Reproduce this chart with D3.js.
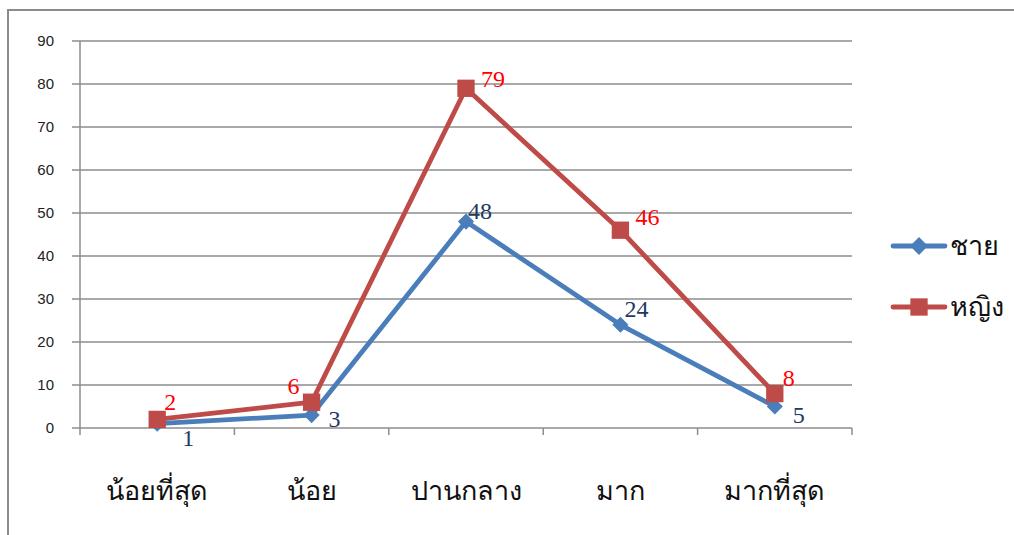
<!DOCTYPE html>
<html>
<head>
<meta charset="utf-8">
<script src="https://cdn.jsdelivr.net/npm/d3@7"></script>
<style>
  body { margin: 0; background: #fff; }
  svg { display: block; }
</style>
</head>
<body>
<svg id="chart" width="1014" height="535"></svg>
<script>
// chart data
var categories = ["น้อยที่สุด", "น้อย", "ปานกลาง", "มาก", "มากที่สุด"];
var seriesNames = ["ชาย", "หญิง"];
var maleValues = [1, 3, 48, 24, 5];
var femaleValues = [2, 6, 79, 46, 8];
var yTicks = [0, 10, 20, 30, 40, 50, 60, 70, 80, 90];

// label nudges (dx, dy) per point, to keep them clear of the lines
var maleLabelOffset = [[31, 14], [23, 4], [14, -11], [16, -16], [24, 8]];
var femaleLabelOffset = [[13, -17], [-18, -16], [27, -9], [27, -13], [14, -16]];

var svg = d3.select("#chart");
var margin = {left: 80, right: 162, top: 41, bottom: 107};
var width = 1014 - margin.left - margin.right,
    height = 535 - margin.top - margin.bottom;

var gridColor = "#8c8c8c";
var blue = "#4a7ebb", red = "#be4b48";

//outer chart border (only top and left edges fall inside the picture)
svg.append("rect")
    .attr("x", 8).attr("y", 10)
    .attr("width", 1100).attr("height", 600)
    .attr("fill", "none")
    .attr("stroke", gridColor)
    .attr("stroke-width", 2);

var g = svg.append("g").attr("transform", "translate(" + margin.left + "," + margin.top + ")");

var x = d3.scaleBand().domain(categories).range([0, width]);
var y = d3.scaleLinear().domain([0, 90]).range([height, 0]);

//horizontal gridlines
g.selectAll("line.grid")
    .data(yTicks)
    .enter().append("line")
    .attr("class", "grid")
    .attr("x1", -8).attr("x2", width)
    .attr("y1", function(d){ return y(d); })
    .attr("y2", function(d){ return y(d); })
    .attr("stroke", gridColor)
    .attr("stroke-width", 1.5);

//y axis
var yAxis = g.append("g")
    .call(d3.axisLeft(y).tickValues(yTicks).tickSize(8).tickPadding(18));
yAxis.select(".domain").attr("stroke", gridColor).attr("stroke-width", 1.5).attr("d", "M0," + height + "V0");
yAxis.selectAll(".tick line").attr("stroke", "none");
yAxis.selectAll("text")
    .attr("font-family", "Liberation Sans, Arial, sans-serif")
    .attr("font-size", 15)
    .attr("fill", "#222");

//x axis: boundary ticks between categories
var bounds = d3.range(categories.length + 1).map(function(i){ return i * x.step(); });
g.selectAll("line.xtick")
    .data(bounds)
    .enter().append("line")
    .attr("class", "xtick")
    .attr("x1", function(d){ return d; }).attr("x2", function(d){ return d; })
    .attr("y1", height).attr("y2", height + 7)
    .attr("stroke", gridColor)
    .attr("stroke-width", 1.5);

g.selectAll("text.cat")
    .data(categories)
    .enter().append("text")
    .attr("class", "cat")
    .attr("x", function(d){ return x(d) + x.bandwidth() / 2; })
    .attr("y", height + 72)
    .attr("text-anchor", "middle")
    .attr("font-family", "Liberation Serif, Times New Roman, serif")
    .attr("font-size", 27)
    .attr("fill", "#111")
    .text(function(d){ return d; });

var line = d3.line()
    .x(function(d, i){ return x(categories[i]) + x.bandwidth() / 2; })
    .y(function(d){ return y(d); });

//diamond marker = square turned 45 degrees
function markerTransform(cx, cy, shape) {
    return "translate(" + cx + "," + cy + ")" + (shape == "diamond" ? " rotate(45)" : "");
}

function drawSeries(values, color, shape, size, offsets, labelColor) {
    g.append("path")
        .datum(values)
        .attr("d", line)
        .attr("fill", "none")
        .attr("stroke", color)
        .attr("stroke-width", 4.8)
        .attr("stroke-linejoin", "round");

    g.selectAll(null)
        .data(values)
        .enter().append("path")
        .attr("transform", function(d, i){
            return markerTransform(x(categories[i]) + x.bandwidth() / 2, y(d), shape);
        })
        .attr("d", d3.symbol().type(d3.symbolSquare).size(size))
        .attr("fill", color);

    g.selectAll(null)
        .data(values)
        .enter().append("text")
        .attr("x", function(d, i){ return x(categories[i]) + x.bandwidth() / 2 + offsets[i][0]; })
        .attr("y", function(d, i){ return y(d) + offsets[i][1]; })
        .attr("text-anchor", "middle")
        .attr("dominant-baseline", "central")
        .attr("font-family", "Liberation Serif, Times New Roman, serif")
        .attr("font-size", 24)
        .attr("fill", labelColor)
        .text(function(d){ return d; });
}

drawSeries(maleValues, blue, "diamond", 130, maleLabelOffset, "#1f3864");
drawSeries(femaleValues, red, "square", 300, femaleLabelOffset, "#ff0000");

//legend
var legend = svg.append("g");
var legendItems = [
    {name: seriesNames[0], color: blue, shape: "diamond", size: 160, y: 246},
    {name: seriesNames[1], color: red, shape: "square", size: 300, y: 307}
];
legendItems.forEach(function(item){
    legend.append("line")
        .attr("x1", 893).attr("x2", 945)
        .attr("y1", item.y).attr("y2", item.y)
        .attr("stroke", item.color)
        .attr("stroke-width", 4.8)
        .attr("stroke-linecap", "round");
    legend.append("path")
        .attr("transform", markerTransform(919, item.y, item.shape))
        .attr("d", d3.symbol().type(d3.symbolSquare).size(item.size))
        .attr("fill", item.color);
    legend.append("text")
        .attr("x", 950).attr("y", item.y)
        .attr("dominant-baseline", "central")
        .attr("font-family", "Liberation Serif, Times New Roman, serif")
        .attr("font-size", 27)
        .attr("fill", "#111")
        .text(item.name);
});
</script>
</body>
</html>
